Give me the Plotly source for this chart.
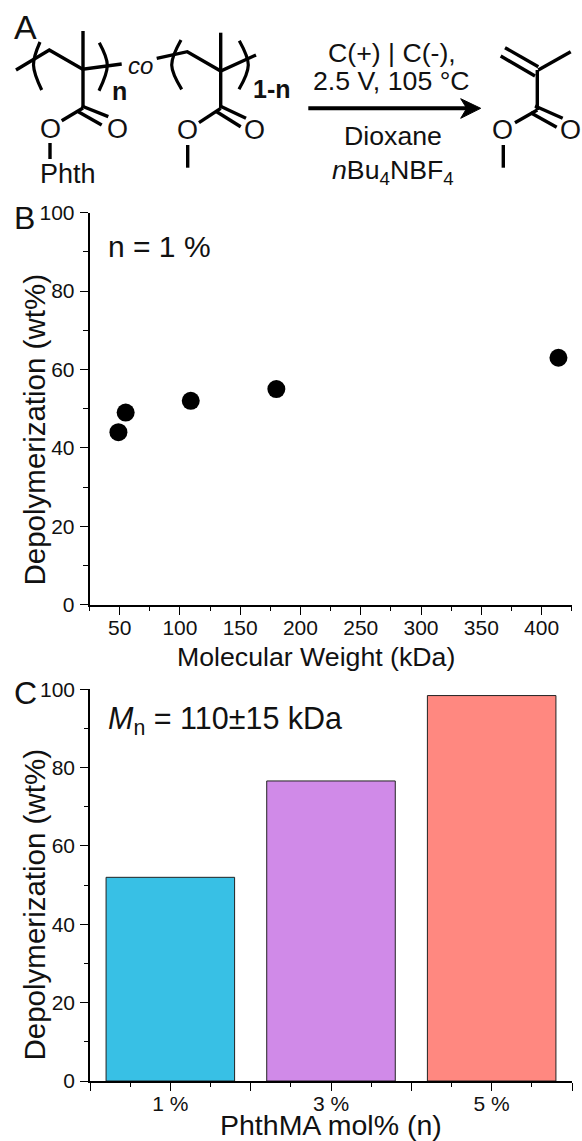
import plotly.graph_objects as go

W, H = 582, 1141
FONT = "Liberation Sans"
INK = "#111111"

# Panel B data
mw_kda = [49, 55, 109, 180, 414]
depol_b = [44, 49, 52, 55, 63]

# Panel C data
phth_pos = [1, 2, 3]
phth_labels = ["1 %", "3 %", "5 %"]
depol_c = [52, 76.6, 98.4]
bar_colors = ["#38C0E5", "#D08AE8", "#FF8880"]

# Scheme (panel A), in figure pixels
bonds = [
    [(16, 70), (49.3, 50), (82.7, 69.3), (121.7, 64)],
    [(83, 31), (83, 108)],
    [(83, 108), (61.7, 120.7)],
    [(81.7, 106), (108.3, 116.7)],
    [(78.3, 111.7), (101.7, 125)],
    [(50, 143), (50, 159)],
    [(156.7, 58.3), (187.3, 51.7), (220.7, 71), (256, 55)],
    [(220.7, 32.7), (220.7, 108.3)],
    [(220.7, 108.3), (199, 122.7)],
    [(220, 106), (246, 118.3)],
    [(216.7, 111.7), (240.7, 126.7)],
    [(187.7, 145), (187.7, 167.7)],
    [(505, 47.7), (538.3, 66.7)],
    [(500.7, 56), (535, 76)],
    [(538.3, 70), (570.7, 51.7)],
    [(537.3, 70), (537.3, 110)],
    [(537.3, 110), (515, 122.7)],
    [(535, 106), (562.7, 118.3)],
    [(530.7, 112.7), (556.7, 127.3)],
    [(503.3, 145), (503.3, 167.7)],
]
parens = [
    [(40, 42), (33.5, 65), (41.7, 90)],
    [(99.3, 42.7), (107.3, 65), (99, 90.7)],
    [(181, 40), (171.7, 65), (181.7, 89.3)],
    [(239.3, 40.7), (248.3, 65), (239, 89.3)],
]
arrow_shaft = [(308.3, 108.3), (470, 108.3)]
arrow_head = [(480.7, 108.3), (460.7, 98.7), (466.7, 108.3), (460.7, 118.3), (480.7, 108.3)]
scheme_text = [
    ("A", 25, 27, 34),
    ("O", 50, 129, 27),
    ("O", 117, 129, 27),
    ("Phth", 68, 174, 27),
    ("<b>n</b>", 119, 91, 25),
    ("<i>co</i>", 140, 65, 24),
    ("O", 187, 130, 27),
    ("O", 254, 130, 27),
    ("<b>1-n</b>", 272, 89, 25),
    ("C(+) | C(-),", 391.7, 53, 26.7),
    ("2.5 V, 105 °C", 391.7, 81, 26.7),
    ("Dioxane", 392.7, 136, 26.7),
    ("<i>n</i>Bu<sub>4</sub>NBF<sub>4</sub>", 392.7, 172, 26.7),
    ("O", 502.7, 130, 27),
    ("O", 570, 130, 27),
    ("B", 24, 218, 32),
    ("C", 25, 693, 32),
    ("Molecular Weight (kDa)", 316, 657, 26.7),
    ("PhthMA mol% (n)", 331, 1125, 28.5),
]
y_titles = [
    ("Depolymerization (wt%)", 33.5, 430, 29.5),
    ("Depolymerization (wt%)", 33.5, 905, 29.5),
]


def xdom(a, b):
    return [a / W, b / W]


def ydom(top, bottom):
    return [1 - bottom / H, 1 - top / H]


def xs(pts):
    return [p[0] for p in pts]


def ys(pts):
    return [p[1] for p in pts]


fig = go.Figure()

fig.add_trace(go.Scatter(
    x=mw_kda, y=depol_b, mode="markers", xaxis="x", yaxis="y",
    marker=dict(color="black", size=18), cliponaxis=False, showlegend=False,
))
fig.add_trace(go.Bar(
    x=phth_pos, y=depol_c, width=0.8, xaxis="x2", yaxis="y2",
    marker=dict(color=bar_colors, line=dict(color="#222222", width=1)), showlegend=False,
))

for seg in bonds:
    fig.add_trace(go.Scatter(x=xs(seg), y=ys(seg), mode="lines", xaxis="x3", yaxis="y3",
                             line=dict(color="black", width=3.4), showlegend=False))
for seg in parens:
    fig.add_trace(go.Scatter(x=xs(seg), y=ys(seg), mode="lines", xaxis="x3", yaxis="y3",
                             line=dict(color="black", width=3.2, shape="spline"), showlegend=False))
fig.add_trace(go.Scatter(x=xs(arrow_shaft), y=ys(arrow_shaft), mode="lines", xaxis="x3", yaxis="y3",
                         line=dict(color="black", width=4), showlegend=False))
fig.add_trace(go.Scatter(x=xs(arrow_head), y=ys(arrow_head), mode="lines", xaxis="x3", yaxis="y3",
                         fill="toself", fillcolor="black", line=dict(color="black", width=1),
                         showlegend=False))

axis_common = dict(
    automargin=False,
    showgrid=False, zeroline=False, showline=True, linecolor="black", linewidth=1.6,
    ticks="outside", ticklen=8, tickwidth=1.4, tickcolor="black",
    tickfont=dict(family=FONT, size=21, color=INK),
)
minor_common = dict(ticks="outside", ticklen=4.5, tickwidth=1.4, tickcolor="black", showgrid=False)

fig.update_layout(
    width=W, height=H, margin=dict(l=0, r=0, t=0, b=0),
    paper_bgcolor="white", plot_bgcolor="rgba(0,0,0,0)",
    font=dict(family=FONT, color=INK),
    showlegend=False,
    xaxis=dict(domain=xdom(89.5, 571.7), range=[25, 425], anchor="y",
               tick0=0, dtick=50, minor=dict(dtick=25, **minor_common),
               ticklabelstandoff=-5, **axis_common),
    yaxis=dict(domain=ydom(212.7, 604.7), range=[0, 100], anchor="x",
               tick0=0, dtick=20, minor=dict(dtick=10, **minor_common),
               ticklabelstandoff=1, **axis_common),
    xaxis2=dict(domain=xdom(90, 572), range=[0.5, 3.5], anchor="y2",
                tickmode="array",
                tickvals=[0.5, 1, 1.5, 2, 2.5, 3, 3.5],
                ticktext=["", phth_labels[0], "", phth_labels[1], "", phth_labels[2], ""],
                minor=dict(tickmode="array", tickvals=[0.75, 1.25, 1.75, 2.25, 2.75, 3.25], **minor_common),
                ticklabelstandoff=-5, **axis_common),
    yaxis2=dict(domain=ydom(689.3, 1081), range=[0, 100], anchor="x2",
                tick0=0, dtick=20, minor=dict(dtick=10, **minor_common),
                ticklabelstandoff=1, **axis_common),
    xaxis3=dict(domain=[0, 1], range=[0, W], anchor="y3", visible=False, fixedrange=True, automargin=False),
    yaxis3=dict(domain=[0, 1], range=[H, 0], anchor="x3", visible=False, fixedrange=True, automargin=False),
)

annotations = [
    dict(text=t, x=x, y=y, xref="x3", yref="y3", showarrow=False,
         xanchor="center", yanchor="middle", font=dict(family=FONT, size=s, color=INK))
    for t, x, y, s in scheme_text
]
annotations += [
    dict(text=t, x=x, y=y, xref="x3", yref="y3", showarrow=False, textangle=-90,
         xanchor="center", yanchor="middle", font=dict(family=FONT, size=s, color=INK))
    for t, x, y, s in y_titles
]
annotations.append(dict(text="n = 1 %", x=105.5, y=246, xref="x3", yref="y3", showarrow=False,
                        xanchor="left", yanchor="middle", font=dict(family=FONT, size=30, color=INK)))
annotations.append(dict(text="<i>M</i><sub>n</sub> = 110±15 kDa", x=105.5, y=720, xref="x3", yref="y3",
                        showarrow=False, xanchor="left", yanchor="middle",
                        font=dict(family=FONT, size=30.5, color=INK)))
fig.update_layout(annotations=annotations)

fig.write_html("out.html", config=dict(displayModeBar=False),
               post_script="document.body.style.margin='0';")
